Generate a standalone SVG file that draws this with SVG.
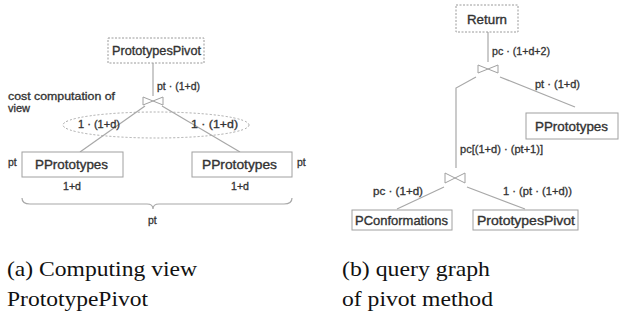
<svg xmlns="http://www.w3.org/2000/svg" width="620" height="321" viewBox="0 0 620 321">
<style>
.bg{fill:#ffffff}
.dbox{fill:#ffffff;stroke:#9a9a9a;stroke-width:1;stroke-dasharray:2,1.5}
.box{fill:#ffffff;stroke:#a0a0a0;stroke-width:1}
.ntxt{font-family:"Liberation Sans",Arial,sans-serif;font-size:13px;fill:#333333;stroke:#333333;stroke-width:0.35}
.lbl{font-family:"Liberation Sans",Arial,sans-serif;font-size:10.5px;fill:#333333;stroke:#333333;stroke-width:0.3}
.cap{font-family:"Liberation Serif","Times New Roman",serif;font-size:22px;fill:#111111}
.ln{fill:none;stroke:#a8a8a8;stroke-width:1.2}
.bow{fill:none;stroke:#a0a0a0;stroke-width:1}
.dash{fill:none;stroke:#a8a8a8;stroke-width:1;stroke-dasharray:2,2}
</style>
<rect class="bg" x="0" y="0" width="620" height="321"/>

<g id="connectors">
  <line class="ln" x1="153" y1="63" x2="153" y2="96"/>
  <line class="ln" x1="145" y1="106" x2="80" y2="152"/>
  <line class="ln" x1="162" y1="106" x2="240" y2="152"/>
  <line class="ln" x1="488" y1="32" x2="488" y2="62"/>
  <polyline class="ln" points="476,77 456,88 456,168"/>
  <line class="ln" x1="500" y1="77" x2="575" y2="107"/>
  <line class="ln" x1="444" y1="187" x2="397" y2="209"/>
  <line class="ln" x1="467" y1="187" x2="525" y2="209"/>
</g>

<g id="join-left">
  <polygon class="bow" points="143,97 153,101 143,105"/>
  <polygon class="bow" points="163,97 153,101 163,105"/>
</g>
<g id="join-right-top">
  <polygon class="bow" points="478,65 488,69 478,73"/>
  <polygon class="bow" points="498,65 488,69 498,73"/>
</g>
<g id="join-right-bottom">
  <polygon class="bow" points="445,173 455,178 445,183"/>
  <polygon class="bow" points="465,173 455,178 465,183"/>
</g>

<g id="view-ellipse">
  <ellipse class="dash" cx="156" cy="125" rx="93" ry="13"/>
</g>

<g id="labels-left">
  <text class="lbl" x="157" y="90" textLength="43" lengthAdjust="spacingAndGlyphs">pt · (1+d)</text>
  <text class="lbl" x="8" y="100" textLength="107" lengthAdjust="spacingAndGlyphs">cost computation of</text>
  <text class="lbl" x="8" y="112" textLength="22" lengthAdjust="spacingAndGlyphs">view</text>
  <text class="lbl" x="78" y="128" textLength="42" lengthAdjust="spacingAndGlyphs">1 · (1+d)</text>
  <text class="lbl" x="191" y="128" textLength="47" lengthAdjust="spacingAndGlyphs">1 · (1+d)</text>
  <text class="lbl" x="8" y="166">pt</text>
  <text class="lbl" x="297" y="166">pt</text>
  <text class="lbl" x="63" y="190" textLength="18" lengthAdjust="spacingAndGlyphs">1+d</text>
  <text class="lbl" x="231" y="190" textLength="18" lengthAdjust="spacingAndGlyphs">1+d</text>
  <text class="lbl" x="148" y="224">pt</text>
</g>

<g id="brace">
  <path class="ln" d="M22,198 Q22,204 30,204 L147,204 Q153,204 153,209 Q153,204 159,204 L284,204 Q292,204 292,198"/>
</g>

<g id="node-prototypespivot-a">
  <rect class="dbox" x="108" y="38" width="96" height="25"/>
  <text class="ntxt" x="112" y="55" textLength="89" lengthAdjust="spacingAndGlyphs">PrototypesPivot</text>
</g>
<g id="node-pprototypes-a1">
  <rect class="box" x="22" y="152" width="101" height="25"/>
  <text class="ntxt" x="35" y="169" textLength="73" lengthAdjust="spacingAndGlyphs">PPrototypes</text>
</g>
<g id="node-pprototypes-a2">
  <rect class="box" x="192" y="152" width="100" height="25"/>
  <text class="ntxt" x="202" y="169" textLength="75" lengthAdjust="spacingAndGlyphs">PPrototypes</text>
</g>

<g id="labels-right">
  <text class="lbl" x="492" y="55" textLength="58" lengthAdjust="spacingAndGlyphs">pc · (1+d+2)</text>
  <text class="lbl" x="535" y="88" textLength="45" lengthAdjust="spacingAndGlyphs">pt · (1+d)</text>
  <text class="lbl" x="460" y="153" textLength="83" lengthAdjust="spacingAndGlyphs">pc[(1+d) · (pt+1)]</text>
  <text class="lbl" x="373" y="195" textLength="50" lengthAdjust="spacingAndGlyphs">pc · (1+d)</text>
  <text class="lbl" x="503" y="195" textLength="69" lengthAdjust="spacingAndGlyphs">1 · (pt · (1+d))</text>
</g>

<g id="node-return">
  <rect class="dbox" x="456" y="5" width="62" height="27"/>
  <text class="ntxt" x="467" y="24" textLength="40" lengthAdjust="spacingAndGlyphs">Return</text>
</g>
<g id="node-pprototypes-b">
  <rect class="box" x="526" y="113" width="92" height="26"/>
  <text class="ntxt" x="535" y="131" textLength="73" lengthAdjust="spacingAndGlyphs">PPrototypes</text>
</g>
<g id="node-pconformations">
  <rect class="box" x="352" y="210" width="100" height="20"/>
  <text class="ntxt" x="355" y="225" textLength="93" lengthAdjust="spacingAndGlyphs">PConformations</text>
</g>
<g id="node-prototypespivot-b">
  <rect class="box" x="473" y="210" width="105" height="20"/>
  <text class="ntxt" x="477" y="225" textLength="98" lengthAdjust="spacingAndGlyphs">PrototypesPivot</text>
</g>

<g id="captions">
  <text class="cap" x="7" y="276" textLength="190" lengthAdjust="spacingAndGlyphs">(a) Computing view</text>
  <text class="cap" x="7" y="306" textLength="141" lengthAdjust="spacingAndGlyphs">PrototypePivot</text>
  <text class="cap" x="342" y="276" textLength="148" lengthAdjust="spacingAndGlyphs">(b) query graph</text>
  <text class="cap" x="342" y="306" textLength="151" lengthAdjust="spacingAndGlyphs">of pivot method</text>
</g>
</svg>
